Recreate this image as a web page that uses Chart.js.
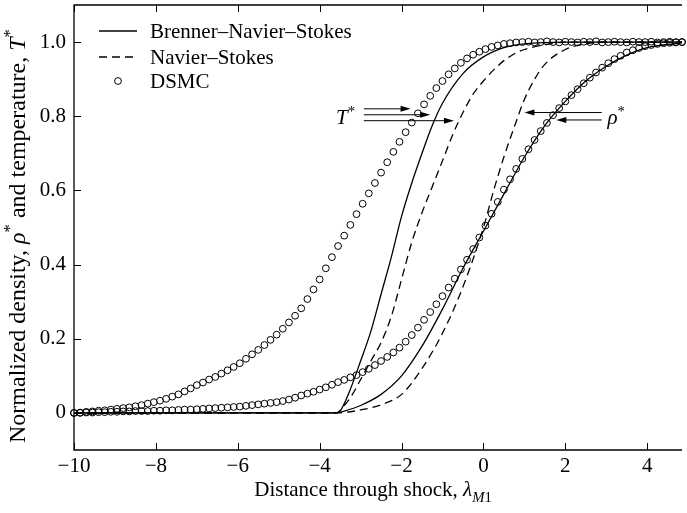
<!DOCTYPE html>
<html>
<head>
<meta charset="utf-8">
<script src="https://cdn.jsdelivr.net/npm/chart.js@4.4.1/dist/chart.umd.min.js"></script>
<style>
  body { margin: 0; background: #fff; }
  #wrap { width: 687px; height: 513px; }
</style>
</head>
<body>
<div id="wrap"><canvas id="shockChart" width="687" height="513"></canvas></div>
<script>
// --- DATA ---
const xTicks = [-10, -8, -6, -4, -2, 0, 2, 4];
const xTickLabels = ["\u221210", "\u22128", "\u22126", "\u22124", "\u22122", "0", "2", "4"];
const yTicks = [0, 0.2, 0.4, 0.6, 0.8, 1.0];
const yTickLabels = ["0", "0.2", "0.4", "0.6", "0.8", "1.0"];
const legendLabels = ["Brenner\u2013Navier\u2013Stokes", "Navier\u2013Stokes", "DSMC"];

// Brenner-Navier-Stokes (solid)
const bnsTempX = [-10, -3.6, -3.5, -3.3, -3.0, -2.75, -2.5, -2.25, -2.0, -1.75, -1.5, -1.25, -1.0, -0.5, 0, 0.5, 1.0, 2.0, 4.85];
const bnsTempY = [0, 0, 0.005, 0.05, 0.14, 0.22, 0.32, 0.42, 0.53, 0.62, 0.70, 0.775, 0.835, 0.915, 0.96, 0.985, 0.995, 1.0, 1.0];
const bnsRhoX = [-10, -3.6, -3.4, -3.0, -2.5, -2.0, -1.5, -1.0, -0.5, 0, 0.5, 1.0, 1.5, 2.0, 2.5, 3.0, 3.5, 4.0, 4.85];
const bnsRhoY = [0, 0, 0.005, 0.02, 0.05, 0.10, 0.18, 0.28, 0.39, 0.49, 0.59, 0.69, 0.775, 0.84, 0.895, 0.935, 0.965, 0.985, 0.998];

// Navier-Stokes (dashed)
const nsTempX = [-10, -3.6, -3.4, -3.2, -3.0, -2.75, -2.5, -2.25, -2.0, -1.75, -1.5, -1.25, -1.0, -0.75, -0.5, -0.25, 0, 0.25, 0.5, 0.75, 1.0, 1.5, 2.0, 4.85];
const nsTempY = [0, 0, 0.02, 0.05, 0.09, 0.14, 0.19, 0.26, 0.36, 0.46, 0.54, 0.61, 0.68, 0.75, 0.81, 0.86, 0.895, 0.925, 0.95, 0.968, 0.98, 0.993, 1.0, 1.0];
const nsRhoX = [-10, -3.6, -3.0, -2.5, -2.0, -1.5, -1.0, -0.5, 0, 0.25, 0.5, 0.75, 1.0, 1.25, 1.5, 2.0, 2.5, 3.0, 4.85];
const nsRhoY = [0, 0, 0.008, 0.022, 0.05, 0.12, 0.215, 0.34, 0.5, 0.6, 0.69, 0.77, 0.845, 0.9, 0.94, 0.98, 0.995, 1.0, 1.0];

// DSMC (circles)
const dsmcX = [
  -10.00, -9.85, -9.70, -9.55, -9.40, -9.25, -9.10, -8.95, -8.80, -8.65,
  -8.50, -8.35, -8.20, -8.05, -7.90, -7.75, -7.60, -7.45, -7.30, -7.15,
  -7.00, -6.85, -6.70, -6.55, -6.40, -6.25, -6.10, -5.95, -5.80, -5.65,
  -5.50, -5.35, -5.20, -5.05, -4.90, -4.75, -4.60, -4.45, -4.30, -4.15,
  -4.00, -3.85, -3.70, -3.55, -3.40, -3.25, -3.10, -2.95, -2.80, -2.65,
  -2.50, -2.35, -2.20, -2.05, -1.90, -1.75, -1.60, -1.45, -1.30, -1.15,
  -1.00, -0.85, -0.70, -0.55, -0.40, -0.25, -0.10, 0.05, 0.20, 0.35,
  0.50, 0.65, 0.80, 0.95, 1.10, 1.25, 1.40, 1.55, 1.70, 1.85,
  2.00, 2.15, 2.30, 2.45, 2.60, 2.75, 2.90, 3.05, 3.20, 3.35,
  3.50, 3.65, 3.80, 3.95, 4.10, 4.25, 4.40, 4.55, 4.70, 4.85
];
const dsmcTemp = [
  0.000, 0.001, 0.003, 0.004, 0.006, 0.007, 0.009, 0.011, 0.013, 0.015,
  0.018, 0.021, 0.025, 0.029, 0.033, 0.038, 0.044, 0.050, 0.058, 0.066,
  0.075, 0.082, 0.090, 0.097, 0.106, 0.115, 0.124, 0.134, 0.146, 0.158,
  0.170, 0.183, 0.197, 0.211, 0.227, 0.244, 0.262, 0.282, 0.307, 0.333,
  0.360, 0.390, 0.420, 0.450, 0.478, 0.507, 0.536, 0.564, 0.592, 0.620,
  0.648, 0.676, 0.704, 0.731, 0.757, 0.783, 0.808, 0.832, 0.855, 0.876,
  0.895, 0.913, 0.929, 0.944, 0.956, 0.966, 0.974, 0.981, 0.987, 0.991,
  0.995, 0.997, 0.999, 1.000, 1.001, 0.999, 1.000, 1.002, 1.000, 0.999,
  1.001, 1.000, 0.999, 1.001, 1.000, 1.002, 0.999, 1.000, 1.001, 1.000,
  0.999, 1.001, 1.000, 1.000, 1.001, 0.999, 1.000, 1.001, 1.000, 1.000
];
const dsmcRho = [
  0.000, 0.000, 0.001, 0.001, 0.002, 0.002, 0.003, 0.003, 0.004, 0.004,
  0.005, 0.005, 0.005, 0.006, 0.006, 0.007, 0.007, 0.008, 0.009, 0.009,
  0.010, 0.011, 0.012, 0.013, 0.014, 0.015, 0.016, 0.017, 0.019, 0.021,
  0.023, 0.025, 0.027, 0.029, 0.032, 0.036, 0.041, 0.047, 0.052, 0.057,
  0.063, 0.069, 0.076, 0.083, 0.089, 0.096, 0.102, 0.110, 0.119, 0.129,
  0.140, 0.151, 0.163, 0.176, 0.192, 0.210, 0.230, 0.251, 0.272, 0.293,
  0.315, 0.338, 0.362, 0.387, 0.413, 0.442, 0.473, 0.505, 0.537, 0.569,
  0.602, 0.630, 0.658, 0.685, 0.711, 0.736, 0.760, 0.782, 0.803, 0.822,
  0.840, 0.857, 0.873, 0.889, 0.904, 0.918, 0.931, 0.943, 0.954, 0.963,
  0.972, 0.978, 0.984, 0.989, 0.992, 0.995, 0.997, 0.998, 0.999, 1.000
];

// annotation arrows (data coords): [x0, y0, x1, y1]
const tempArrows = [[-2.92, 0.820, -1.78, 0.820], [-2.92, 0.804, -1.30, 0.804], [-2.92, 0.788, -0.72, 0.788]];
const rhoArrows = [[2.89, 0.810, 1.00, 0.810], [2.89, 0.790, 1.78, 0.790]];
const tempLabelPos = [-3.6, 0.80];
const rhoLabelPos = [3.03, 0.80];

// --- HELPERS ---
const FONT = "'Liberation Serif', 'Times New Roman', serif";
const pts = (xs, ys) => xs.map((x, i) => ({ x: x, y: ys[i] }));

// rich text: parts = [{t, it, sup, sub}]
function richWidth(ctx, parts, size) {
    let w = 0;
    parts.forEach(p => {
        const s = (p.sup || p.sub) ? size * 0.7 : size;
        ctx.font = (p.it ? "italic " : "") + s + "px " + FONT;
        w += ctx.measureText(p.t).width;
    });
    return w;
}
function drawRich(ctx, parts, x, y, size) {
    parts.forEach(p => {
        const s = (p.sup || p.sub) ? size * 0.7 : size;
        ctx.font = (p.it ? "italic " : "") + s + "px " + FONT;
        const dy = p.sup ? -size * 0.4 : (p.sub ? size * 0.3 : 0);
        ctx.fillText(p.t, x, y + dy);
        x += ctx.measureText(p.t).width;
    });
}
function arrow(ctx, x0, y0, x1, y1) {
    const dir = Math.sign(x1 - x0);
    ctx.beginPath();
    ctx.moveTo(x0, y0);
    ctx.lineTo(x1 - dir * 8, y1);
    ctx.stroke();
    ctx.beginPath();
    ctx.moveTo(x1, y1);
    ctx.lineTo(x1 - dir * 10, y1 - 3);
    ctx.lineTo(x1 - dir * 10, y1 + 3);
    ctx.closePath();
    ctx.fill();
}

// --- DECORATION PLUGIN (frame, inward ticks, titles, legend, arrows) ---
const decor = {
    id: "decor",
    afterDatasetsDraw(chart) {
        const { ctx, chartArea: a, scales: { x, y } } = chart;
        ctx.save();
        ctx.strokeStyle = "#000";
        ctx.fillStyle = "#000";
        ctx.lineWidth = 1.3;
        ctx.setLineDash([]);

        // frame
        ctx.beginPath();
        ctx.moveTo(a.right, a.top);
        ctx.lineTo(a.left, a.top);
        ctx.lineTo(a.left, a.bottom);
        ctx.lineTo(a.right, a.bottom);
        ctx.stroke();

        // inward ticks
        ctx.lineWidth = 1;
        xTicks.forEach(v => {
            const px = Math.round(x.getPixelForValue(v)) + 0.5;
            ctx.beginPath();
            ctx.moveTo(px, a.bottom); ctx.lineTo(px, a.bottom - 7);
            ctx.moveTo(px, a.top); ctx.lineTo(px, a.top + 7);
            ctx.stroke();
        });
        yTicks.forEach(v => {
            const py = Math.round(y.getPixelForValue(v)) + 0.5;
            ctx.beginPath();
            ctx.moveTo(a.left, py); ctx.lineTo(a.left + 7, py);
            ctx.stroke();
        });

        // arrows
        ctx.lineWidth = 1;
        tempArrows.concat(rhoArrows).forEach(r => {
            arrow(ctx, x.getPixelForValue(r[0]), y.getPixelForValue(r[1]),
                       x.getPixelForValue(r[2]), y.getPixelForValue(r[3]));
        });
        ctx.textBaseline = "alphabetic";
        ctx.textAlign = "left";
        drawRich(ctx, [{ t: "T", it: true }, { t: "*", sup: true }],
            x.getPixelForValue(tempLabelPos[0]), y.getPixelForValue(tempLabelPos[1]) + 8, 21);
        drawRich(ctx, [{ t: "\u03c1", it: true }, { t: "*", sup: true }],
            x.getPixelForValue(rhoLabelPos[0]), y.getPixelForValue(rhoLabelPos[1]) + 8, 21);

        // legend
        const rows = [31, 57, 81];
        ctx.lineWidth = 1.3;
        ctx.beginPath(); ctx.moveTo(99, rows[0]); ctx.lineTo(137, rows[0]); ctx.stroke();
        ctx.setLineDash([8, 5]);
        ctx.beginPath(); ctx.moveTo(99, rows[1]); ctx.lineTo(137, rows[1]); ctx.stroke();
        ctx.setLineDash([]);
        ctx.lineWidth = 1;
        ctx.beginPath(); ctx.arc(118, rows[2], 3.4, 0, Math.PI * 2); ctx.stroke();
        ctx.font = "21px " + FONT;
        ctx.textBaseline = "middle";
        legendLabels.forEach((t, i) => ctx.fillText(t, 150, rows[i] + 1));

        // axis titles
        ctx.textBaseline = "alphabetic";
        const xt = [{ t: "Distance through shock, " }, { t: "\u03bb", it: true }, { t: "M", it: true, sub: true }, { t: "1", sub: true }];
        const xw = richWidth(ctx, xt, 21);
        drawRich(ctx, xt, 373 - xw / 2, 496, 21);

        const yt = [{ t: "Normalized density, " }, { t: "\u03c1", it: true }, { t: "*", sup: true },
                    { t: " and temperature, " }, { t: "T", it: true }, { t: "*", sup: true }];
        ctx.translate(25, 443);
        ctx.rotate(-Math.PI / 2);
        drawRich(ctx, yt, 0, 0, 24);
        ctx.restore();
    }
};

// --- CHART ---
Chart.defaults.font.family = FONT;
Chart.defaults.font.size = 21;
Chart.defaults.color = "#000";

const lineStyle = (data, dash) => ({
    data: data,
    showLine: true,
    borderColor: "#000",
    borderWidth: 1.3,
    borderDash: dash,
    pointRadius: 0,
    cubicInterpolationMode: "monotone",
    fill: false
});
const circleStyle = data => ({
    data: data,
    showLine: false,
    pointRadius: 3.4,
    pointBorderWidth: 1,
    pointBorderColor: "#000",
    pointBackgroundColor: "rgba(0,0,0,0)",
    clip: false
});

new Chart(document.getElementById("shockChart"), {
    type: "scatter",
    data: {
        datasets: [
            lineStyle(pts(bnsTempX, bnsTempY), []),
            lineStyle(pts(bnsRhoX, bnsRhoY), []),
            lineStyle(pts(nsTempX, nsTempY), [8, 5]),
            lineStyle(pts(nsRhoX, nsRhoY), [8, 5]),
            circleStyle(pts(dsmcX, dsmcTemp)),
            circleStyle(pts(dsmcX, dsmcRho))
        ]
    },
    options: {
        responsive: false,
        animation: false,
        layout: { padding: { top: 5, right: 0, left: 0, bottom: 0 } },
        plugins: { legend: { display: false }, tooltip: { enabled: false } },
        scales: {
            x: {
                type: "linear",
                min: -10,
                max: 4.85,
                grid: { display: false, drawTicks: false },
                border: { display: false },
                afterBuildTicks: s => { s.ticks = xTicks.map(v => ({ value: v })); },
                afterFit: s => { s.height = 63; s.paddingLeft = 0; s.paddingRight = 0; },
                ticks: {
                    autoSkip: false,
                    maxRotation: 0,
                    padding: 4,
                    callback: v => xTickLabels[xTicks.indexOf(v)]
                }
            },
            y: {
                type: "linear",
                min: -0.1,
                max: 1.1,
                grid: { display: false, drawTicks: false },
                border: { display: false },
                afterBuildTicks: s => { s.ticks = yTicks.map(v => ({ value: v })); },
                afterFit: s => { s.width = 74; s.paddingTop = 0; s.paddingBottom = 0; },
                ticks: {
                    autoSkip: false,
                    padding: 8,
                    callback: v => yTickLabels[yTicks.findIndex(t => Math.abs(t - v) < 1e-9)]
                }
            }
        }
    },
    plugins: [decor]
});
</script>
</body>
</html>
